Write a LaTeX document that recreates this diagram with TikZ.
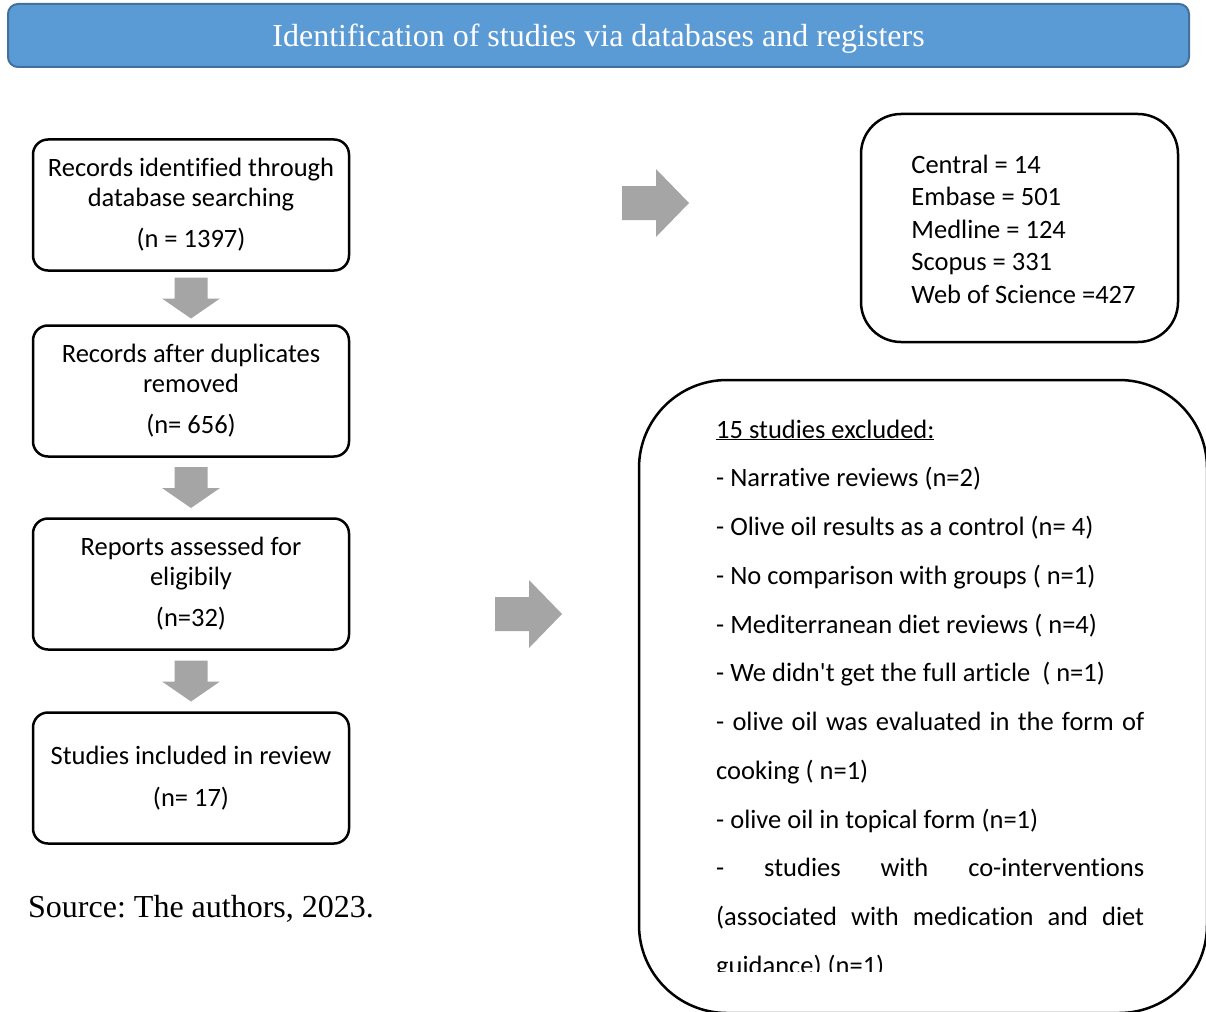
\documentclass[tikz,border=0pt]{standalone}
\usepackage{fontspec}
\setmainfont{Carlito}[Ligatures=NoCommon]
\newfontfamily\timesfont{Liberation Serif}
\usetikzlibrary{calc}
\frenchspacing

\definecolor{headblue}{HTML}{5B9BD5}
\definecolor{headline}{HTML}{41719C}
\definecolor{arrgray}{HTML}{A5A5A5}

\tikzset{
  stage/.style={draw, line width=2.5pt, rounded corners=15pt, minimum width=316pt, minimum height=131pt,
    align=center, inner sep=0pt, font=\fontsize{26.5}{29.5}\selectfont},
  exline/.style={anchor=base west, inner sep=0pt, font=\fontsize{26.5}{30}\selectfont},
  downarr/.pic={\fill[arrgray] (-16.5,-20.5) -- (16.5,-20.5) -- (16.5,0.5) -- (29,0.5) -- (0,20.5) -- (-29,0.5) -- (-16.5,0.5) -- cycle;},
  rightarr/.pic={\fill[arrgray] (-33.5,-17) -- (0.5,-17) -- (0.5,-34) -- (33.5,0) -- (0.5,34) -- (0.5,17) -- (-33.5,17) -- cycle;},
}

\begin{document}
\begin{tikzpicture}[x=1pt, y=-1pt]
	\clip (0,0) rectangle (1206,1011);
	
	% header
	\node[draw=headline, fill=headblue, line width=2pt, rounded corners=10pt, minimum width=1181pt, minimum height=63pt,
	  text=white, text height=30pt, text depth=7pt, font=\timesfont\fontsize{32}{36}\selectfont] (head) at (598.5,35.5) {Identification of studies via databases and registers};
	
	% left column
	\node[stage] (rec) at (191,205) {Records identified through\\database searching\\[12pt](n = 1397)};
	\node[stage] (dup) at (191,391) {Records after duplicates\\removed\\[12pt](n= 656)};
	\node[stage] (elig) at (191,584) {Reports assessed for\\eligibily\\[12pt](n=32)};
	\node[stage] (incl) at (191,778) {Studies included in review\\[12pt](n= 17)};
	
	\pic at ($(rec.south)!0.5!(dup.north)$) {downarr};
	\pic at ($(dup.south)!0.5!(elig.north)$) {downarr};
	\pic at ($(elig.south)!0.5!(incl.north)$) {downarr};
	
	\node[anchor=base west, inner sep=0pt, font=\timesfont\fontsize{32}{36}\selectfont] (src) at (28,917) {Source: The authors, 2023.};
	
	% right side
	\pic at (655.5,203) {rightarr};
	\pic at (528.5,614) {rightarr};
	
	\node[draw, line width=2.5pt, rounded corners=40pt, minimum width=317pt, minimum height=228pt] (db) at (1019.5,228) {};
	\node[align=left, inner sep=0pt, font=\fontsize{26.5}{32.5}\selectfont] (dbtext) at ($(db.center)+(4,1)$)
	  {Central = 14\\Embase = 501\\Medline = 124\\Scopus = 331\\Web of Science =427};
	
	\node[draw, line width=2.5pt, rounded corners=88pt, minimum width=568pt, minimum height=633pt] (excl) at (923,696.5) {};
	
	\node[exline] (x0) at (716,438) {\underline{15 studies excluded:}};
	\node[exline] (x1) at (716,486.75) {- Narrative reviews (n=2)};
	\node[exline] (x2) at (716,535.5) {- Olive oil results as a control (n= 4)};
	\node[exline] (x3) at (716,584.25) {- No comparison with groups ( n=1)};
	\node[exline] (x4) at (716,633) {- Mediterranean diet reviews ( n=4)};
	\node[exline] (x5) at (716,681.75) {- We didn\textquotesingle t get the full article~ ( n=1)};
	\node[exline] (x6) at (716,730.5) {\makebox[428pt][s]{- olive oil was evaluated in the form of}};
	\node[exline] (x7) at (716,779.25) {cooking ( n=1)};
	\node[exline] (x8) at (716,828) {- olive oil in topical form (n=1)};
	\node[exline] (x9) at (716,876.75) {\makebox[428pt][s]{- studies with co-interventions}};
	\node[exline] (x10) at (716,925.5) {\makebox[428pt][s]{(associated with medication and diet}};
	\begin{scope}
	\clip (700,940) rectangle (1150,971);
	\node[exline] (x11) at (716,974.25) {guidance) (n=1)};
	\end{scope}
\end{tikzpicture}
\end{document}
